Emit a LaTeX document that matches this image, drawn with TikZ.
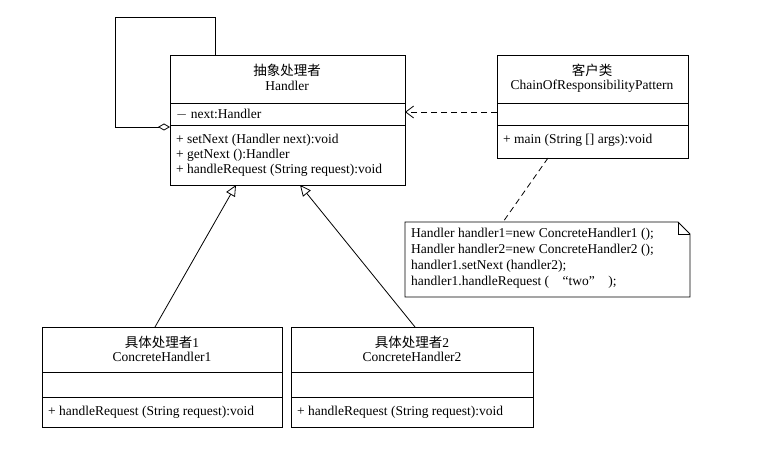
\documentclass[tikz,border=0pt]{standalone}
\usepackage{fontspec}
\setmainfont{Liberation Serif}
\newfontfamily\cjk{Noto Sans CJK SC}
\usetikzlibrary{arrows.meta}
\begin{document}
\begin{tikzpicture}[x=1pt,y=-1pt,font=\fontsize{13.5}{15}\selectfont,
  box/.style={draw,line width=0.8pt},
  ln/.style={line width=0.8pt},
  lt/.style={anchor=west,inner sep=0pt}]
\useasboundingbox (0,0) rectangle (758,449);
% Handler
\draw[box] (170,55) rectangle (405,185);
\draw[ln] (170,103)--(405,103) (170,125)--(405,125);
\node (ht) at (287,70) {\cjk 抽象处理者};
\node at (287,86) {Handler};
\node[lt] at (176,114) {$-$ next:Handler};
\node[lt] at (176,140) {+ setNext (Handler next):void};
\node[lt] at (176,155) {+ getNext ():Handler};
\node[lt] at (176,170) {+ handleRequest (String request):void};
\coordinate (hd) at (170,127);
\draw[ln,-{Diamond[open,length=12pt,width=7pt]}] (215,55)--(215,17)--(115,17)--(115,127)--(hd);
% Client
\draw[box] (497,55) rectangle (688,158);
\draw[ln] (497,103)--(688,103) (497,125)--(688,125);
\node at (592,70) {\cjk 客户类};
\node at (592,86) {ChainOfResponsibilityPattern};
\node[lt] at (503,140) {+ main (String [] args):void};
\coordinate (ca) at (497,112);
\coordinate (ha) at (405,112);
\draw[ln,dashed,dash pattern=on 6pt off 4pt,-{Straight Barb[length=8pt,width=12pt]}] (ca)--(ha);
% Note
\draw[box] (405,222)--(678,222)--(690,234)--(690,297)--(405,297)--cycle;
\draw[ln] (678,222)--(678,234)--(690,234);
\node[lt] at (411,234) {Handler handler1=new ConcreteHandler1 ();};
\node[lt] at (411,250) {Handler handler2=new ConcreteHandler2 ();};
\node[lt] at (411,266) {handler1.setNext (handler2);};
\node[lt] at (411,282) {handler1.handleRequest (\quad``two''\quad);};
\coordinate (cb) at (548,158);
\coordinate (nt) at (503,222);
\draw[ln,dashed,dash pattern=on 6pt off 4pt] (cb)--(nt);
% Concrete 1
\draw[box] (42,327) rectangle (282,427);
\draw[ln] (42,372)--(282,372) (42,397)--(282,397);
\node at (162,342) {{\cjk 具体处理者}1};
\node at (162,357) {ConcreteHandler1};
\node[lt] at (48,412) {+ handleRequest (String request):void};
% Concrete 2
\draw[box] (291,327) rectangle (533,427);
\draw[ln] (291,372)--(533,372) (291,397)--(533,397);
\node at (412,342) {{\cjk 具体处理者}2};
\node at (412,357) {ConcreteHandler2};
\node[lt] at (297,412) {+ handleRequest (String request):void};
% inheritance
\draw[ln,-{Triangle[open,length=11pt,width=10pt]}] (155,327)--(236,185);
\draw[ln,-{Triangle[open,length=11pt,width=10pt]}] (415,327)--(300,185);
\end{tikzpicture}
\end{document}
